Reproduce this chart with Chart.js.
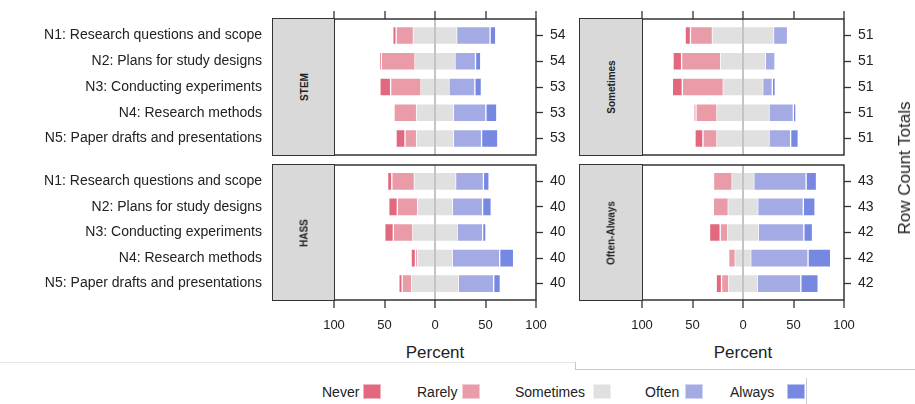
<!DOCTYPE html>
<html>
<head>
<meta charset="utf-8">
<script src="https://cdn.jsdelivr.net/npm/chart.js@4.4.1/dist/chart.umd.min.js"></script>
<style>
  body { margin: 0; width: 915px; height: 404px; position: relative; overflow: hidden; background: #fff;
         font-family: "Liberation Sans", Arial, sans-serif; color: #222; }
  canvas { position: absolute; }
  .strip { position: absolute; background: #d9d9d9; border: 1.5px solid #333; box-sizing: border-box; }
  .strip span { position: absolute; left: 50%; top: 50%; transform: translate(-50%, -50%) rotate(-90deg);
                font-weight: bold; font-size: 10px; white-space: nowrap; }
  .title { position: absolute; font-size: 17px; white-space: nowrap; }
  .leg { position: absolute; top: 384px; font-size: 14px; line-height: 17px; }
  .box { position: absolute; top: 384px; width: 18px; height: 15px; box-sizing: border-box; }
  .line { position: absolute; }
</style>
</head>
<body>
<canvas id="tl" width="575" height="160" style="left:0;top:0"></canvas>
<canvas id="bl" width="575" height="180" style="left:0;top:160px"></canvas>
<canvas id="tr" width="340" height="160" style="left:575px;top:0"></canvas>
<canvas id="br" width="340" height="180" style="left:575px;top:160px"></canvas>

<div class="strip" style="left:272px;top:18px;width:63px;height:138px"><span>STEM</span></div>
<div class="strip" style="left:272px;top:164px;width:63px;height:137px"><span>HASS</span></div>
<div class="strip" style="left:579px;top:18px;width:64px;height:138px"><span>Sometimes</span></div>
<div class="strip" style="left:579px;top:164px;width:64px;height:137px"><span>Often-Always</span></div>

<div class="title" style="left:435px;top:343px;transform:translateX(-50%)">Percent</div>
<div class="title" style="left:743px;top:343px;transform:translateX(-50%)">Percent</div>
<div class="title" style="left:905px;top:168px;transform:translate(-50%,-50%) rotate(-90deg)">Row Count Totals</div>

<div class="line" style="left:0;top:362px;width:575px;height:1px;background:#e6e6e6"></div>
<div class="line" style="left:575px;top:362px;width:1px;height:8px;background:#c8c8c8"></div>
<div class="line" style="left:575px;top:369px;width:340px;height:1px;background:#c8c8c8"></div>
<div class="line" style="left:806px;top:378px;width:1px;height:26px;background:#cccccc"></div>

<div id="legend"></div>

<script>
const questions = [
  "N1: Research questions and scope",
  "N2: Plans for study designs",
  "N3: Conducting experiments",
  "N4: Research methods",
  "N5: Paper drafts and presentations"
];
const levels = ["Never", "Rarely", "Sometimes", "Often", "Always"];
const colors = ["#e2687f", "#e99ba8", "#e0e0e0", "#a3aae4", "#7688e2"];
const xTicks = [-100, -50, 0, 50, 100];

// percent per question, N1..N5
const stemNever     = [3.3, 1.6, 10.6, 0, 8.9];
const stemRarely    = [17.1, 33.5, 30.2, 22.4, 11.5];
const stemSometimes = [42.7, 39.4, 27.5, 36.4, 36.4];
const stemOften     = [33.2, 20.4, 25.7, 32.2, 27.9];
const stemAlways    = [5.6, 5.2, 6.5, 10.8, 16.1];
const stemCounts    = [54, 54, 53, 53, 53];

const hassNever     = [4.2, 8.5, 8.5, 4.3, 3.3];
const hassRarely    = [22.4, 20.1, 19.4, 2.3, 9.5];
const hassSometimes = [40.7, 34.4, 43.7, 34.1, 46.0];
const hassOften     = [27.6, 29.9, 25.3, 47.0, 35.1];
const hassAlways    = [5.6, 8.6, 3.3, 13.8, 6.6];
const hassCounts    = [40, 40, 40, 40, 40];

const someNever     = [5.3, 8.5, 9.9, 2.0, 7.9];
const someRarely    = [21.8, 38.7, 40.6, 20.8, 13.9];
const someSometimes = [60.4, 44.2, 38.9, 51.5, 51.5];
const someOften     = [13.9, 9.6, 9.6, 24.1, 21.4];
const someAlways    = [0, 0, 2.9, 2.6, 7.6];
const someCounts    = [51, 51, 51, 51, 51];

const oaNever       = [0, 0, 10.6, 0, 5.3];
const oaRarely      = [18.5, 14.8, 7.5, 6.6, 7.2];
const oaSometimes   = [21.4, 29.1, 30.1, 15.2, 28.1];
const oaOften       = [51.8, 45.2, 45.2, 56.8, 43.2];
const oaAlways      = [10.3, 11.6, 8.6, 22.4, 17.2];
const oaCounts      = [43, 43, 42, 42, 42];

// draws the box around the plotting region
const frame = {
  id: "frame",
  afterDatasetsDraw(chart) {
    const { ctx, chartArea: a } = chart;
    ctx.save();
    ctx.strokeStyle = "#333";
    ctx.lineWidth = 1.5;
    ctx.strokeRect(a.left, a.top, a.right - a.left, a.bottom - a.top);
    ctx.restore();
  }
};

function fixSize(size) {
  return (s) => {
    if (s.isHorizontal()) s.height = size; else s.width = size;
    s.paddingTop = s.paddingBottom = s.paddingLeft = s.paddingRight = 0;
  };
}

function rowTicks(s) {
  s.ticks = questions.map((q, i) => ({ value: i + 1 }));
}

function seg(label, vals, color, sign, middle) {
  return {
    label,
    data: vals.map((v, i) => ({ x: sign * v, y: i + 1 })),
    backgroundColor: color,
    borderColor: "rgba(255,255,255,0.45)",
    // the two halves of "Sometimes" meet at 0 without a seam
    borderWidth: middle ? { top: 1, bottom: 1, left: 0, right: 0 } : 1,
    borderSkipped: false,
    barThickness: 18
  };
}

function makeChart(id, never, rarely, sometimes, often, always, counts, opt) {
  const half = sometimes.map((v) => v / 2);
  const font = { family: "'Liberation Sans', Arial, sans-serif", size: 14 };
  new Chart(document.getElementById(id), {
    type: "bar",
    data: {
      datasets: [
        seg("Sometimes", half, colors[2], -1, true),
        seg("Rarely", rarely, colors[1], -1),
        seg("Never", never, colors[0], -1),
        seg("Sometimes", half, colors[2], 1, true),
        seg("Often", often, colors[3], 1),
        seg("Always", always, colors[4], 1)
      ]
    },
    options: {
      indexAxis: "y",
      responsive: false,
      animation: false,
      events: [],
      layout: { padding: opt.padding },
      plugins: { legend: { display: false }, tooltip: { enabled: false } },
      scales: {
        x: {
          type: "linear",
          position: opt.bottom ? "bottom" : "top",
          stacked: true,
          min: -100,
          max: 100,
          afterBuildTicks: (s) => { s.ticks = xTicks.map((v) => ({ value: v })); },
          afterFit: fixSize(opt.xHeight),
          border: { display: false },
          grid: {
            color: (c) => (c.tick && c.tick.value === 0 ? "#c4c4c4" : "rgba(0,0,0,0)"),
            lineWidth: 2,
            tickColor: "#333",
            tickWidth: 1.3,
            tickLength: 8
          },
          ticks: {
            display: !!opt.bottom,
            color: "#222",
            padding: 10,
            font: { family: font.family, size: 13 },
            callback: (v) => Math.abs(v)
          }
        },
        y: {
          type: "linear",
          position: "left",
          stacked: true,
          reverse: true,
          offset: false,
          min: 0.36,
          max: 5.64,
          afterBuildTicks: rowTicks,
          afterFit: fixSize(opt.leftWidth),
          border: { display: false },
          grid: { display: false, drawTicks: false, offset: false },
          ticks: {
            display: !!opt.labels,
            color: "#222",
            padding: opt.leftWidth - 262,
            font,
            callback: (v) => questions[v - 1]
          }
        },
        y2: {
          type: "linear",
          position: "right",
          reverse: true,
          offset: false,
          min: 0.36,
          max: 5.64,
          afterBuildTicks: rowTicks,
          afterFit: fixSize(opt.rightWidth),
          border: { display: false },
          grid: { drawOnChartArea: false, color: "#333", tickColor: "#333", tickWidth: 1.3, tickLength: 7, offset: false },
          ticks: { color: "#222", padding: 7, font, callback: (v) => counts[v - 1] }
        }
      }
    },
    plugins: [frame]
  });
}

// plot widths of 202px keep the 0 line on a whole pixel
makeChart("tl", stemNever, stemRarely, stemSometimes, stemOften, stemAlways, stemCounts,
  { padding: { bottom: 5 }, xHeight: 19, leftWidth: 334, rightWidth: 39, labels: true });
makeChart("bl", hassNever, hassRarely, hassSometimes, hassOften, hassAlways, hassCounts,
  { padding: { top: 5 }, xHeight: 40, leftWidth: 334, rightWidth: 39, labels: true, bottom: true });
makeChart("tr", someNever, someRarely, someSometimes, someOften, someAlways, someCounts,
  { padding: { bottom: 5 }, xHeight: 19, leftWidth: 67, rightWidth: 71 });
makeChart("br", oaNever, oaRarely, oaSometimes, oaOften, oaAlways, oaCounts,
  { padding: { top: 5 }, xHeight: 40, leftWidth: 67, rightWidth: 71, bottom: true });

// legend: label first, colour box after it
const legendText = [322, 417, 515, 645, 730];
const legendBox = [363, 462, 593, 685, 787];
const legend = document.getElementById("legend");
levels.forEach((name, i) => {
  const t = document.createElement("div");
  t.className = "leg";
  t.style.left = legendText[i] + "px";
  t.textContent = name;
  legend.appendChild(t);
  const b = document.createElement("div");
  b.className = "box";
  b.style.left = legendBox[i] + "px";
  b.style.background = colors[i];
  b.style.border = "1px solid rgba(255,255,255,0.5)";
  legend.appendChild(b);
});
</script>
</body>
</html>
